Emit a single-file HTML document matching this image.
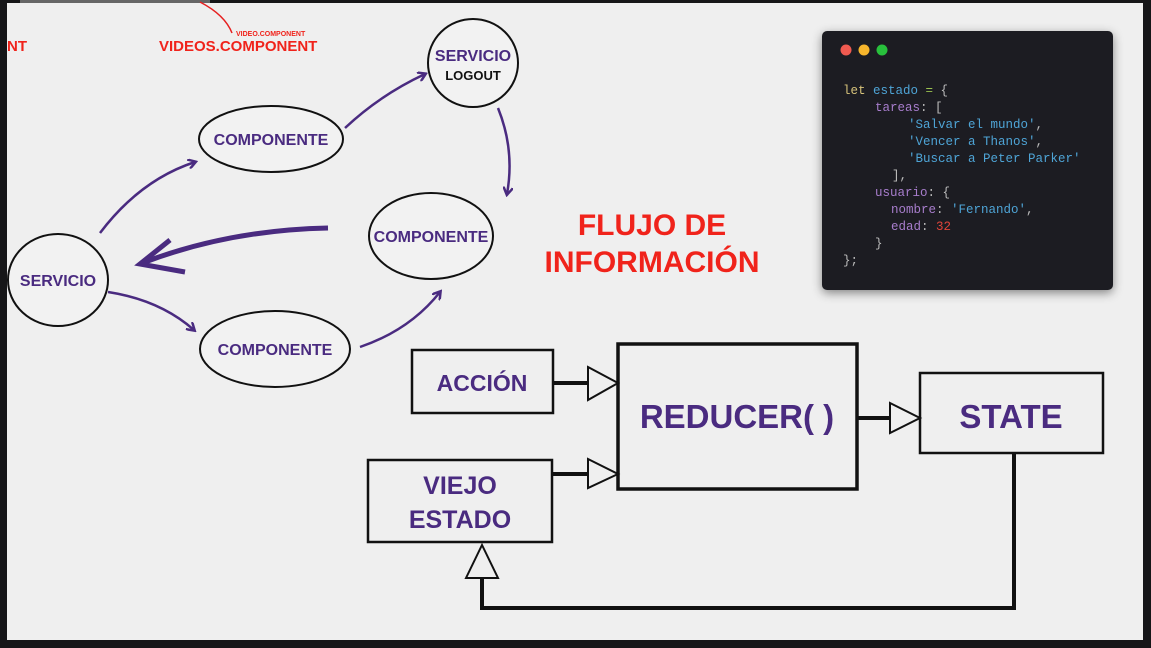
<!DOCTYPE html>
<html><head><meta charset="utf-8"><style>
html,body{margin:0;padding:0;background:#111}
svg{display:block}
.p{font-family:"Liberation Sans",sans-serif;font-weight:bold;fill:#4a2b80}
.r{font-family:"Liberation Sans",sans-serif;font-weight:bold;fill:#f0231b}
.c{font-family:"Liberation Mono",monospace;font-size:12.5px}
</style></head><body>
<svg width="1151" height="648" viewBox="0 0 1151 648">
<defs>
<marker id="ah" markerWidth="10" markerHeight="10" refX="7" refY="5" orient="auto" markerUnits="userSpaceOnUse"><path d="M0,0 L8,5 L0,10" fill="none" stroke="#4a2b80" stroke-width="2.5"/></marker>
<filter id="sh" x="-10%" y="-10%" width="130%" height="130%"><feDropShadow dx="0" dy="3" stdDeviation="5" flood-opacity="0.45"/></filter>
</defs>
<rect x="0" y="0" width="1151" height="648" fill="#161618"/>
<rect x="7" y="3" width="1136" height="637" fill="#efefef"/>
<rect x="20" y="0" width="190" height="3" fill="#666"/>
<!-- top-left red labels -->
<text x="7" y="51" class="r" font-size="15">NT</text>
<text x="159" y="51" class="r" font-size="15">VIDEOS.COMPONENT</text>
<text x="236" y="36" class="r" font-size="7">VIDEO.COMPONENT</text>
<path d="M200,2 Q225,15 232,33" fill="none" stroke="#e62020" stroke-width="1.5"/>

<!-- ellipses -->
<g fill="#f2f2f2" stroke="#111" stroke-width="2">
<ellipse cx="271" cy="139" rx="72" ry="33"/>
<ellipse cx="473" cy="63" rx="45" ry="44"/>
<ellipse cx="431" cy="236" rx="62" ry="43"/>
<ellipse cx="58" cy="280" rx="50" ry="46"/>
<ellipse cx="275" cy="349" rx="75" ry="38"/>
</g>
<text x="271" y="145" class="p" font-size="16" text-anchor="middle">COMPONENTE</text>
<text x="473" y="61" class="p" font-size="16" text-anchor="middle">SERVICIO</text>
<text x="473" y="80" font-family="Liberation Sans,sans-serif" font-weight="bold" font-size="13" fill="#111" text-anchor="middle">LOGOUT</text>
<text x="431" y="242" class="p" font-size="16" text-anchor="middle">COMPONENTE</text>
<text x="58" y="286" class="p" font-size="16" text-anchor="middle">SERVICIO</text>
<text x="275" y="355" class="p" font-size="16" text-anchor="middle">COMPONENTE</text>

<!-- purple arrows -->
<g fill="none" stroke="#4a2b80" stroke-width="2.5" marker-end="url(#ah)">
<path d="M100,233 Q140,180 195,162"/>
<path d="M345,128 Q380,95 425,74"/>
<path d="M498,108 Q515,150 507,194"/>
<path d="M108,292 Q160,300 194,330"/>
<path d="M360,347 Q410,330 440,292"/>
</g>
<path d="M328,228 Q230,230 145,262" fill="none" stroke="#4a2b80" stroke-width="5"/>
<path d="M170,240 L140,264 L185,272" fill="none" stroke="#4a2b80" stroke-width="5"/>

<text x="652" y="235" class="r" font-size="30" text-anchor="middle">FLUJO DE</text>
<text x="652" y="272" class="r" font-size="30" text-anchor="middle">INFORMACIÓN</text>

<!-- code window -->
<g>
<rect x="822" y="31" width="291" height="259" rx="5" fill="#1e1e21" filter="url(#sh)"/>
<circle cx="846" cy="50" r="5.5" fill="#f05a50"/>
<circle cx="864" cy="50" r="5.5" fill="#f6b52c"/>
<circle cx="882" cy="50" r="5.5" fill="#28c03c"/>
<text class="c" x="843" y="94"><tspan fill="#d6c27a">let </tspan><tspan fill="#4ea4d6">estado </tspan><tspan fill="#9ac250">=</tspan><tspan fill="#bbb"> {</tspan></text>
<text class="c" x="875" y="111"><tspan fill="#a77dcc">tareas</tspan><tspan fill="#bbb">: [</tspan></text>
<text class="c" x="908" y="128" fill="#4ea4d6">'Salvar el mundo'<tspan fill="#bbb">,</tspan></text>
<text class="c" x="908" y="145" fill="#4ea4d6">'Vencer a Thanos'<tspan fill="#bbb">,</tspan></text>
<text class="c" x="908" y="162" fill="#4ea4d6">'Buscar a Peter Parker'</text>
<text class="c" x="892" y="179" fill="#bbb">],</text>
<text class="c" x="875" y="196"><tspan fill="#a77dcc">usuario</tspan><tspan fill="#bbb">: {</tspan></text>
<text class="c" x="891" y="213"><tspan fill="#a77dcc">nombre</tspan><tspan fill="#bbb">: </tspan><tspan fill="#4ea4d6">'Fernando'</tspan><tspan fill="#bbb">,</tspan></text>
<text class="c" x="891" y="230"><tspan fill="#a77dcc">edad</tspan><tspan fill="#bbb">: </tspan><tspan fill="#e0443a">32</tspan></text>
<text class="c" x="875" y="247" fill="#bbb">}</text>
<text class="c" x="843" y="264" fill="#bbb">};</text>
</g>

<!-- boxes -->
<g fill="#efefef" stroke="#111" stroke-width="2.5">
<rect x="412" y="350" width="141" height="63"/>
<rect x="618" y="344" width="239" height="145" stroke-width="3.5"/>
<rect x="368" y="460" width="184" height="82"/>
<rect x="920" y="373" width="183" height="80"/>
</g>
<text x="482" y="391" class="p" font-size="23" text-anchor="middle">ACCIÓN</text>
<text x="737" y="428" class="p" font-size="33" text-anchor="middle">REDUCER( )</text>
<text x="460" y="494" class="p" font-size="25" text-anchor="middle">VIEJO</text>
<text x="460" y="528" class="p" font-size="25" text-anchor="middle">ESTADO</text>
<text x="1011" y="428" class="p" font-size="33" text-anchor="middle">STATE</text>

<g stroke="#111" stroke-width="4" fill="none">
<line x1="553" y1="383" x2="588" y2="383"/>
<line x1="552" y1="474" x2="588" y2="474"/>
<line x1="857" y1="418" x2="890" y2="418"/>
<path d="M1014,453 L1014,608 L482,608 L482,578"/>
</g>
<g fill="#efefef" stroke="#111" stroke-width="2">
<path d="M588,367 L618,383 L588,400 Z"/>
<path d="M588,459 L618,474 L588,488 Z"/>
<path d="M890,403 L920,418 L890,433 Z"/>
<path d="M466,578 L482,545 L498,578 Z"/>
</g>
</svg>
</body></html>
